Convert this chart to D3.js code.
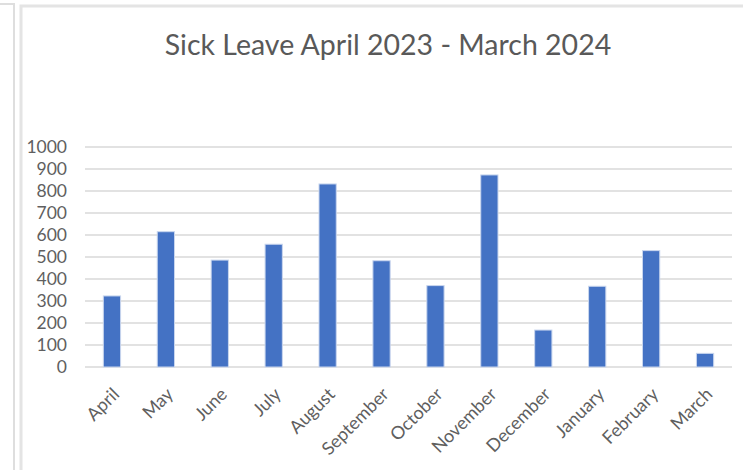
<!DOCTYPE html>
<meta charset="utf-8">
<style>
body{margin:0;background:white;}
svg{display:block;}
.tick text{font-family:Lato, "Open Sans", sans-serif;fill:#5f5f5f;}
</style>
<body>
<script src="https://cdn.jsdelivr.net/npm/d3@7"></script>
<script>
var months = ["April","May","June","July","August","September","October","November","December","January","February","March"];
var sickDays = [323, 615, 486, 558, 832, 483, 370, 873, 168, 367, 529, 62];
var yTicks = [0,100,200,300,400,500,600,700,800,900,1000];

var W = 743, H = 470;
var margin = {top:147, right:11, bottom:103, left:85};

var svg = d3.select("body").append("svg").attr("width", W).attr("height", H);

// window frame lines
svg.append("path").attr("d","M0,4H14V470").attr("fill","none").attr("stroke","#dedede").attr("stroke-width",2);
svg.append("path").attr("d","M743,6H21V470").attr("fill","none").attr("stroke","#e4e4e4").attr("stroke-width",3);

svg.append("text")
  .attr("x", 388).attr("y", 55)
  .attr("text-anchor","middle")
  .attr("font-family","Lato, 'Open Sans', sans-serif")
  .attr("font-size", 28.5)
  .attr("fill","#595959")
  .text("Sick Leave April 2023 - March 2024");

var x = d3.scaleBand().domain(months).range([margin.left, W - margin.right]).paddingInner(0.68).paddingOuter(0.34);
var y = d3.scaleLinear().domain([0,1000]).range([H - margin.bottom, margin.top]);

// gridlines
svg.append("g").selectAll("line").data(yTicks).enter().append("line")
  .attr("x1", margin.left).attr("x2", W - margin.right)
  .attr("y1", function(d){ return y(d); }).attr("y2", function(d){ return y(d); })
  .attr("stroke", "#d9d9d9").attr("stroke-width", 1.5);

// y axis labels
var yAxis = svg.append("g").attr("transform","translate(" + (margin.left - 18) + ",0)")
  .call(d3.axisLeft(y).tickValues(yTicks).tickFormat(d3.format("d")).tickSize(0).tickPadding(0));
yAxis.select(".domain").remove();
yAxis.selectAll("text").attr("font-size", 17.5);

// bars
svg.append("g").selectAll("rect").data(sickDays).enter().append("rect")
  .attr("x", function(d,i){ return x(months[i]); })
  .attr("y", function(d){ return y(d); })
  .attr("width", x.bandwidth())
  .attr("height", function(d){ return y(0) - y(d); })
  .attr("fill", "#4472c4")
  .attr("stroke", "#c9d6ee").attr("stroke-width", 1);

// x axis labels
var xAxis = svg.append("g").attr("transform","translate(0," + (H - margin.bottom) + ")")
  .call(d3.axisBottom(x).tickSize(0).tickPadding(0));
xAxis.select(".domain").remove();
xAxis.selectAll("text")
  .attr("font-size", 18)
  .attr("text-anchor","end")
  .attr("dy", "0.35em")
  .attr("transform","translate(4,24) rotate(-45)");
</script>
</body>
